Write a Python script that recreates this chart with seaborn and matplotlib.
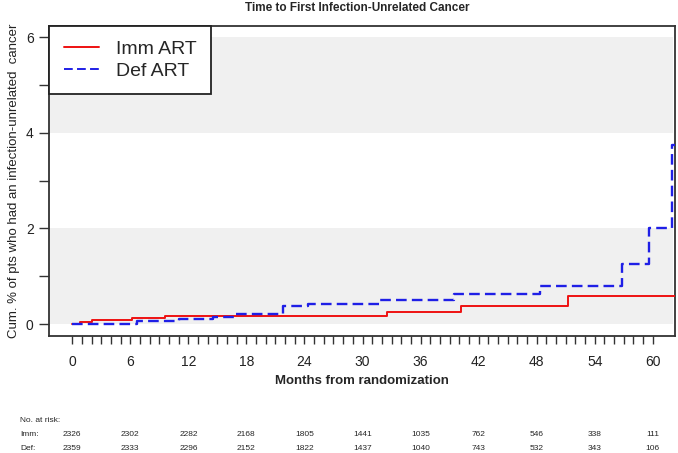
import matplotlib
matplotlib.use("Agg")
import matplotlib.pyplot as plt
import matplotlib.transforms as mtransforms
from matplotlib.ticker import MultipleLocator
import pandas as pd
import seaborn as sns

# step change points (months, cumulative %)
imm_months = [0, 0.8, 2.0, 6.2, 9.6, 32.5, 40.2, 51.2, 62.3]
imm_pct = [0, 0.04, 0.08, 0.13, 0.17, 0.25, 0.38, 0.59, 0.59]
def_months = [0, 6.7, 11.0, 14.5, 16.7, 21.8, 24.4, 31.8, 39.5, 48.3, 56.8, 59.6, 62.0, 62.3]
def_pct = [0, 0.07, 0.10, 0.14, 0.20, 0.37, 0.42, 0.50, 0.62, 0.80, 1.25, 2.00, 3.75, 3.75]

risk_months = [0, 6, 12, 18, 24, 30, 36, 42, 48, 54, 60]
imm_risk = [2326, 2302, 2282, 2168, 1805, 1441, 1035, 762, 546, 338, 111]
def_risk = [2359, 2333, 2296, 2152, 1822, 1437, 1040, 743, 532, 343, 106]

df = pd.concat([
    pd.DataFrame({"month": imm_months, "pct": imm_pct, "arm": "Imm ART"}),
    pd.DataFrame({"month": def_months, "pct": def_pct, "arm": "Def ART"}),
])

sns.set_theme(style="white")
plt.rcParams["font.family"] = ["Liberation Sans", "DejaVu Sans"]

fig = plt.figure(figsize=(6.78, 4.53), dpi=100)
ax = fig.add_axes([0.0723, 0.2583, 0.9233, 0.6843])

ax.axhspan(0, 2, xmin=0, xmax=0.996, color="#f0f0f0", lw=0, zorder=0)
ax.axhspan(4, 6, xmin=0, xmax=0.996, color="#f0f0f0", lw=0, zorder=0)

sns.lineplot(data=df, x="month", y="pct", hue="arm", style="arm",
             palette={"Imm ART": "#ee1111", "Def ART": "#1f1fe6"},
             dashes={"Imm ART": "", "Def ART": (4.5, 2.2)},
             drawstyle="steps-post", estimator=None, ax=ax, zorder=3)
for line in ax.lines:
    line.set_linewidth(1.4)
ax.lines[1].set_linewidth(1.7)

ax.set_xlim(-2.4, 62.3)
ax.set_ylim(-0.25, 6.23)
ax.set_xticks(risk_months)
ax.set_xticks(range(0, 61), minor=True)
ax.set_yticks([0, 2, 4, 6])
ax.set_yticks([1, 3, 5], minor=True)
ax.tick_params(axis="both", which="both", direction="out", length=6, width=1,
               color="#333333", labelsize=10, bottom=True, left=True, labelcolor="#222222")
ax.tick_params(axis="x", which="major", pad=8)
ax.tick_params(axis="y", which="both", length=7, pad=4)

for s in ax.spines.values():
    s.set_color("#333333")
    s.set_linewidth(1.3)

ax.set_xlabel("Months from randomization", fontsize=9.5, fontweight="bold")
ax.xaxis.set_label_coords(0.5, -0.125)
ax.set_ylabel("Cum. % of pts who had an infection-unrelated  cancer", fontsize=9.5,
              color="#222222")
ax.yaxis.set_label_coords(-0.047, 0.5)

fig.text(0.527, 0.982, "Time to First Infection-Unrelated Cancer", ha="center",
         va="center", fontsize=8.5, fontweight="bold")

handles, labels = ax.get_legend_handles_labels()
leg = ax.legend(handles, labels, loc="upper left", borderaxespad=0, fontsize=14,
                frameon=True, fancybox=False, handlelength=1.8, handletextpad=0.9,
                borderpad=0.75, labelspacing=0.19)
leg.get_frame().set_edgecolor("#222222")
leg.get_frame().set_linewidth(1.3)
leg.get_frame().set_alpha(1)

tr = mtransforms.blended_transform_factory(ax.transData, fig.transFigure)
fig.text(20 / 678, 1 - 420 / 453, "No. at risk:", fontsize=6, va="center", ha="left")
fig.text(20 / 678, 1 - 434 / 453, "Imm:", fontsize=6, va="center", ha="left")
fig.text(20 / 678, 1 - 448 / 453, "Def:", fontsize=6, va="center", ha="left")
for m, a, b in zip(risk_months, imm_risk, def_risk):
    ax.text(m, 1 - 434 / 453, str(a), transform=tr, fontsize=6, ha="center", va="center")
    ax.text(m, 1 - 448 / 453, str(b), transform=tr, fontsize=6, ha="center", va="center")

fig.savefig("out.png", dpi=100)
